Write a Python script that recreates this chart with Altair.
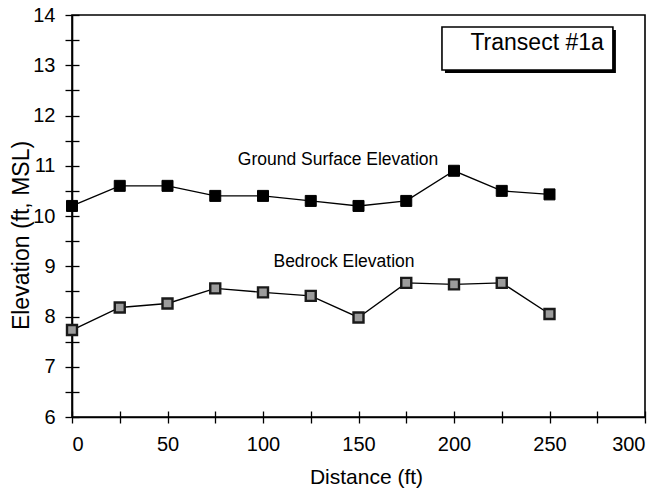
import altair as alt
import pandas as pd

# Survey stations along the transect (ft) and elevations (ft, MSL)
distance = [0, 25, 50, 75, 100, 125, 150, 175, 200, 225, 250]
ground_surface = [10.2, 10.6, 10.6, 10.4, 10.4, 10.3, 10.2, 10.3, 10.9, 10.5, 10.43]
bedrock = [7.73, 8.18, 8.26, 8.56, 8.48, 8.41, 7.98, 8.67, 8.64, 8.67, 8.05]

# Axis tick positions (major + minor)
x_ticks = [0, 25, 50, 75, 100, 125, 150, 175, 200, 225, 250, 275, 300]
y_ticks = [6, 6.5, 7, 7.5, 8, 8.5, 9, 9.5, 10, 10.5, 11, 11.5, 12, 12.5, 13, 13.5, 14]

# Series labels placed inside the plot
label_text = ["Ground Surface Elevation", "Bedrock Elevation"]
label_x = [139.3, 142.4]
label_y = [11.11, 9.08]

# Title box in the upper right
box_text = ["Transect #1a"]
box_x = [193.7]
box_x2 = [283.2]
box_y = [13.76]
box_y2 = [12.905]
box_tx = [243.5]
box_ty = [13.45]

FONT = "Liberation Sans"

ground_df = pd.DataFrame({"distance": distance, "elev": ground_surface})
bed_df = pd.DataFrame({"distance": distance, "elev": bedrock})
labels_df = pd.DataFrame({"text": label_text, "x": label_x, "y": label_y})
box_df = pd.DataFrame({"text": box_text, "x": box_x, "x2": box_x2,
                       "y": box_y, "y2": box_y2, "tx": box_tx, "ty": box_ty})

xscale = alt.Scale(domain=[0, 300], nice=False, zero=False)
yscale = alt.Scale(domain=[6, 14], nice=False, zero=False)

x_axis = alt.Axis(
    orient="bottom", values=x_ticks,
    labelExpr="datum.value % 50 == 0 ? format(datum.value, 'd') : ''",
    tickSize=6, tickColor="black", tickWidth=1.3,
    domainColor="black", domainWidth=1.6,
    labelFont=FONT, labelFontSize=20, labelColor="black", labelPadding=11,
    title="Distance (ft)", titleFont=FONT, titleFontSize=21,
    titleFontWeight="normal", titleColor="black",
    titleX=294, titleY=60, titleBaseline="middle", titleAlign="center",
    grid=False,
)
y_axis = alt.Axis(
    orient="left", values=y_ticks,
    labelExpr="datum.value % 1 == 0 ? format(datum.value, 'd') : ''",
    tickSize=7, tickColor="black", tickWidth=1.3,
    domainColor="black", domainWidth=1.6,
    labelFont=FONT, labelFontSize=20, labelColor="black", labelPadding=10,
    title="Elevation (ft, MSL)", titleFont=FONT, titleFontSize=23,
    titleFontWeight="normal", titleColor="black",
    titleX=-51, titleY=220, titleBaseline="middle", titleAlign="center",
    titleAngle=270,
    grid=False,
)

# Inner halves of the crossing ticks
x_inner = alt.Axis(orient="bottom", values=x_ticks, labels=False, domain=False,
                   tickSize=6, tickColor="black", tickWidth=1.3, offset=-6,
                   title=None, grid=False)
y_inner = alt.Axis(orient="left", values=y_ticks, labels=False, domain=False,
                   tickSize=7, tickColor="black", tickWidth=1.3, offset=-7,
                   title=None, grid=False)

ground_line = alt.Chart(ground_df).mark_line(color="black", strokeWidth=1.4).encode(
    x=alt.X("distance:Q", scale=xscale, axis=x_axis),
    y=alt.Y("elev:Q", scale=yscale, axis=y_axis),
)
ground_pts = alt.Chart(ground_df).mark_point(
    shape="square", size=121, filled=True, fill="black", stroke="black",
    strokeWidth=1, opacity=1,
).encode(x=alt.X("distance:Q", scale=xscale, axis=None),
         y=alt.Y("elev:Q", scale=yscale, axis=None))

bed_line = alt.Chart(bed_df).mark_line(color="black", strokeWidth=1.4).encode(
    x=alt.X("distance:Q", scale=xscale, axis=None),
    y=alt.Y("elev:Q", scale=yscale, axis=None),
)
bed_pts = alt.Chart(bed_df).mark_point(
    shape="square", size=100, filled=True, fill="#9c9c9c", stroke="#1a1a1a",
    strokeWidth=2.4, opacity=1,
).encode(x=alt.X("distance:Q", scale=xscale, axis=None),
         y=alt.Y("elev:Q", scale=yscale, axis=None))

inner_ticks = alt.Chart(ground_df).mark_point(opacity=0).encode(
    x=alt.X("distance:Q", scale=xscale, axis=x_inner),
    y=alt.Y("elev:Q", scale=yscale, axis=y_inner),
)

series_labels = alt.Chart(labels_df).mark_text(
    font=FONT, fontSize=17.5, color="black", align="center", baseline="middle",
).encode(
    x=alt.X("x:Q", scale=xscale, axis=None),
    y=alt.Y("y:Q", scale=yscale, axis=None),
    text="text:N",
)

box_shadow = alt.Chart(box_df).mark_rect(fill="black", xOffset=3, yOffset=3,
                                         x2Offset=3, y2Offset=3).encode(
    x=alt.X("x:Q", scale=xscale, axis=None), x2="x2:Q",
    y=alt.Y("y:Q", scale=yscale, axis=None), y2="y2:Q",
)
box_rect = alt.Chart(box_df).mark_rect(fill="white", stroke="black",
                                       strokeWidth=1.6).encode(
    x=alt.X("x:Q", scale=xscale, axis=None), x2="x2:Q",
    y=alt.Y("y:Q", scale=yscale, axis=None), y2="y2:Q",
)
box_label = alt.Chart(box_df).mark_text(
    font=FONT, fontSize=23, color="black", align="center", baseline="middle",
).encode(
    x=alt.X("tx:Q", scale=xscale, axis=None),
    y=alt.Y("ty:Q", scale=yscale, axis=None),
    text="text:N",
)

chart = alt.layer(
    ground_line, bed_line, ground_pts, bed_pts, inner_ticks,
    series_labels, box_shadow, box_rect, box_label,
).resolve_axis(x="independent", y="independent").properties(
    width=573, height=402,
    autosize=alt.AutoSizeParams(type="none"),
    padding={"left": 72, "top": 15, "right": 18, "bottom": 74},
    background="white",
).configure_view(stroke="black", strokeWidth=1.6)

chart.save("out.html", embed_options={"renderer": "svg", "actions": False})
